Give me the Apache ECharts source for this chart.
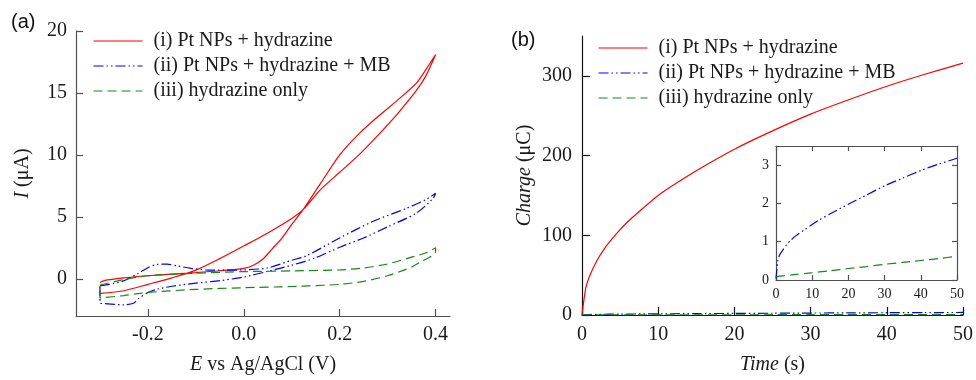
<!DOCTYPE html>
<html>
<head>
<meta charset="utf-8">
<script src="https://cdn.jsdelivr.net/npm/echarts@6/dist/echarts.min.js"></script>
<style>
  html, body { margin: 0; padding: 0; background: #fff; }
  #main { width: 976px; height: 380px; }
</style>
</head>
<body>
<div id="main"></div>
<script>
// (a) cyclic voltammograms, E in V, I in uA, points in sweep order
const redE = [-0.3, -0.25, -0.2, -0.15, -0.1, -0.05, 0, 0.05, 0.1, 0.124, 0.16, 0.2, 0.24, 0.28, 0.32, 0.36, 0.38, 0.4,
  0.38, 0.36, 0.32, 0.28, 0.24, 0.2, 0.16, 0.124, 0.1, 0.08, 0.06, 0.04, 0.02, 0, -0.05, -0.1, -0.15, -0.2, -0.25, -0.29, -0.3]
const redI = [-1.18, -0.96, -0.45, 0.08, 0.7, 1.63, 2.65, 3.7, 4.87, 5.6, 7.2, 8.6, 10.0, 11.6, 13.3, 15.2, 16.4, 18.1,
  16.9, 15.8, 14.4, 13.1, 11.7, 10.0, 7.7, 5.6, 4.4, 3.3, 2.45, 1.6, 1.1, 0.85, 0.65, 0.5, 0.38, 0.25, 0.08, -0.12, -0.3]

const blueE = [-0.3, -0.28, -0.25, -0.22, -0.2, -0.18, -0.16, -0.14, -0.11, -0.08, -0.04, 0, 0.05, 0.1, 0.13, 0.2, 0.27, 0.34, 0.38, 0.4,
  0.395, 0.36, 0.3, 0.25, 0.2, 0.15, 0.1, 0.05, 0, -0.05, -0.1, -0.15, -0.18, -0.2, -0.22, -0.23, -0.25, -0.29, -0.3, -0.3]
const blueI = [-0.56, -0.45, -0.16, 0.45, 0.9, 1.17, 1.18, 1.05, 0.85, 0.73, 0.7, 0.72, 0.88, 1.5, 1.85, 3.3, 4.65, 5.7, 6.4, 6.9,
  6.5, 5.3, 4.2, 3.3, 2.55, 1.7, 1.1, 0.6, 0.15, -0.15, -0.35, -0.6, -0.83, -1.1, -1.6, -1.97, -2.1, -2.0, -1.95, -0.56]

const greenE = [-0.3, -0.25, -0.2, -0.1, 0, 0.1, 0.2, 0.25, 0.3, 0.35, 0.38, 0.4,
  0.4, 0.39, 0.37, 0.35, 0.3, 0.25, 0.2, 0.1, 0, -0.1, -0.2, -0.25, -0.3, -0.3]
const greenI = [-0.5, -0.06, 0.25, 0.45, 0.58, 0.64, 0.72, 0.88, 1.2, 1.75, 2.1, 2.5,
  2.2, 1.8, 1.4, 0.95, 0.25, -0.2, -0.45, -0.62, -0.72, -0.85, -1.1, -1.35, -1.55, -0.5]

// (b) charge vs time
const timeS = [0, 0.5, 1, 2, 3, 4, 5, 6, 8, 10, 12, 15, 20, 25, 30, 35, 40, 45, 50]
const chargeRed = [0, 34, 49, 69, 84, 96, 107, 117, 134, 150, 163, 181, 208, 231, 252, 270, 287, 302, 316]
const chargeBlue = [0.03, 0.5, 0.65, 0.8, 0.93, 1.03, 1.12, 1.19, 1.32, 1.45, 1.57, 1.73, 1.98, 2.22, 2.46, 2.66, 2.86, 3.03, 3.18]
const chargeGreen = [0.08, 0.09, 0.1, 0.11, 0.12, 0.13, 0.14, 0.15, 0.17, 0.19, 0.21, 0.24, 0.3, 0.35, 0.41, 0.46, 0.51, 0.56, 0.62]

// tick values
const eTicks = [-0.2, 0, 0.2, 0.4]
const iTicks = [0, 5, 10, 15, 20]
const qTicks = [0, 100, 200, 300]
const insetTicks = [0, 1, 2, 3]

const names = ['(i) Pt NPs + hydrazine', '(ii) Pt NPs + hydrazine + MB', '(iii) hydrazine only']
const RED = '#ff0000', BLUE = '#0000ff', GREEN = '#118a11'
const SERIF = 'Liberation Serif'
const INK = '#1a1a1a'

const pairs = (xs, ys) => xs.map((x, i) => [x, ys[i]])

const lineStyles = [
  {color: RED, width: 1.2, type: 'solid'},
  {color: BLUE, width: 1.2, type: [10, 3, 1.5, 3, 1.5, 3]},
  {color: GREEN, width: 1.2, type: [9, 5]},
]

const mkSeries = (name, idx, xi, yi, data) => ({
  name,
  type: 'line',
  xAxisIndex: xi,
  yAxisIndex: yi,
  data,
  symbol: 'none',
  smooth: 0.25,
  lineStyle: lineStyles[idx],
  itemStyle: {color: lineStyles[idx].color},
  emphasis: {disabled: true},
  animation: false,
})

const axisBase = (color, tickLen, fontSize, margin) => ({
  axisLine: {onZero: false, lineStyle: {color, width: 1.2}},
  axisTick: {inside: true, length: tickLen, lineStyle: {color, width: 1.2}},
  axisLabel: {fontFamily: SERIF, fontSize, color: INK, margin},
  splitLine: {show: false},
})

// italic variable + plain unit
const nameStyle = {
  fontFamily: SERIF, fontSize: 20, color: INK,
  rich: {i: {fontFamily: SERIF, fontSize: 20, fontStyle: 'italic', color: INK}},
}

const legendBase = {
  data: names, orient: 'vertical', padding: 0, itemWidth: 49, itemHeight: 14, itemGap: 5,
  itemStyle: {opacity: 0},
  lineStyle: {width: 1.1},
  textStyle: {fontFamily: SERIF, fontSize: 20, color: INK, padding: [0, 0, 0, 6]},
  selectedMode: false,
}

const chart = echarts.init(document.getElementById('main'))

const a = axisBase('#505050', 7, 20, 9)
const b = axisBase('#111111', 8, 20, 10)
const c = axisBase('#505050', 5, 14, 7)

chart.setOption({
  backgroundColor: '#fff',
  animation: false,
  grid: [
    {left: 76, top: 31, width: 374, height: 288},
    {left: 582, top: 36, width: 384, height: 287},
    {left: 776, top: 146, width: 181, height: 134},
  ],
  legend: [
    {...legendBase, left: 93, top: 31},
    {...legendBase, left: 598, top: 38},
  ],
  xAxis: [
    {
      gridIndex: 0, type: 'value', min: -0.35, max: 0.43, ...a,
      axisTick: {...a.axisTick, customValues: eTicks},
      axisLabel: {...a.axisLabel, customValues: eTicks, formatter: (v) => v.toFixed(1)},
      name: '{i|E} vs Ag/AgCl (V)', nameLocation: 'middle', nameGap: 39, nameTextStyle: nameStyle,
    },
    {
      gridIndex: 1, type: 'value', min: 0, max: 50, interval: 10, ...b,
      name: '{i|Time} (s)', nameLocation: 'middle', nameGap: 40, nameTextStyle: nameStyle,
    },
    {gridIndex: 2, type: 'value', min: 0, max: 50, interval: 10, ...c},
    {gridIndex: 2, type: 'value', min: 0, max: 50, interval: 10, position: 'top', ...c, axisLabel: {show: false}},
  ],
  yAxis: [
    {
      gridIndex: 0, type: 'value', min: -3, max: 20, ...a,
      axisTick: {...a.axisTick, customValues: iTicks},
      axisLabel: {...a.axisLabel, customValues: iTicks},
      name: '{i|I} (μA)', nameLocation: 'middle', nameGap: 43, nameTextStyle: nameStyle,
    },
    {
      gridIndex: 1, type: 'value', min: 0, max: 350, ...b,
      axisTick: {...b.axisTick, customValues: qTicks},
      axisLabel: {...b.axisLabel, customValues: qTicks},
      name: '{i|Charge} (μC)', nameLocation: 'middle', nameGap: 47, nameTextStyle: nameStyle,
    },
    {
      gridIndex: 2, type: 'value', min: 0, max: 3.5, ...c,
      axisTick: {...c.axisTick, customValues: insetTicks},
      axisLabel: {...c.axisLabel, customValues: insetTicks},
    },
    {
      gridIndex: 2, type: 'value', min: 0, max: 3.5, position: 'right', ...c,
      axisTick: {...c.axisTick, customValues: insetTicks},
      axisLabel: {show: false},
    },
  ],
  graphic: [
    {type: 'text', left: 11, top: 12, style: {text: '(a)', font: '20px "Liberation Sans"', fill: '#111'}},
    {type: 'text', left: 511, top: 30, style: {text: '(b)', font: '20px "Liberation Sans"', fill: '#111'}},
  ],
  series: [
    mkSeries(names[0], 0, 0, 0, pairs(redE, redI)),
    mkSeries(names[1], 1, 0, 0, pairs(blueE, blueI)),
    mkSeries(names[2], 2, 0, 0, pairs(greenE, greenI)),
    mkSeries(names[0], 0, 1, 1, pairs(timeS, chargeRed)),
    mkSeries(names[1], 1, 1, 1, pairs(timeS, chargeBlue)),
    mkSeries(names[2], 2, 1, 1, pairs(timeS, chargeGreen)),
    mkSeries(names[1], 1, 2, 2, pairs(timeS, chargeBlue)),
    mkSeries(names[2], 2, 2, 2, pairs(timeS, chargeGreen)),
  ],
})
</script>
</body>
</html>
